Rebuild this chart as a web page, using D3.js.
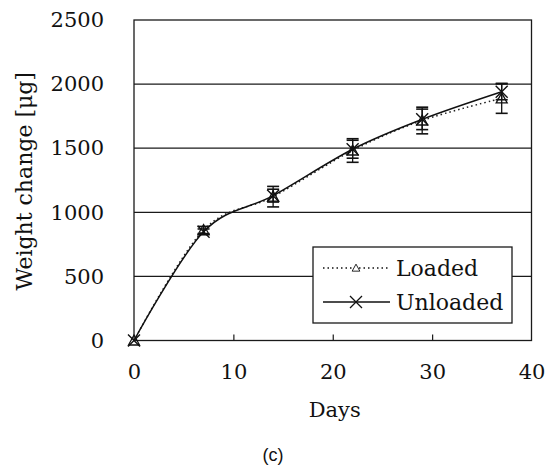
<!DOCTYPE html>
<html>
<head>
<meta charset="utf-8">
<script src="https://cdnjs.cloudflare.com/ajax/libs/d3/7.8.5/d3.min.js"></script>
<style>
    body { margin: 0; background: white; }
    text { font-family: "DejaVu Serif", serif; fill: #111; }
</style>
</head>
<body>
<script>
// data
var days = [0, 7, 14, 22, 29, 37];
var loaded = [0, 862, 1122, 1482, 1716, 1889];
var loadedErr = [0, 28, 80, 92, 104, 117];
var unloaded = [0, 848, 1130, 1492, 1725, 1940];
var unloadedErr = [0, 22, 50, 70, 80, 62];
var xTicks = [0, 10, 20, 30, 40];
var yTicks = [0, 500, 1000, 1500, 2000, 2500];
var gridValues = [500, 1000, 1500, 2000];
var seriesNames = ["Loaded", "Unloaded"];

var margin = { top: 20, right: 15.5, bottom: 126.5, left: 134 },
    width = 547 - margin.left - margin.right,
    height = 467 - margin.top - margin.bottom;

var svg = d3.select("body")
    .append("svg")
    .attr("width", 547)
    .attr("height", 467)
    .append("g")
    .attr("transform", "translate(" + margin.left + "," + margin.top + ")");

var x = d3.scaleLinear()
    .domain([0, 40])
    .range([0, width]);

var y = d3.scaleLinear()
    .domain([0, 2500])
    .range([height, 0]);

// horizontale rasterlijnen
svg.selectAll(".grid")
    .data(gridValues)
    .enter()
    .append("line")
    .attr("class", "grid")
    .attr("x1", 0)
    .attr("x2", width)
    .attr("y1", function(d) { return y(d); })
    .attr("y2", function(d) { return y(d); })
    .attr("stroke", "#1a1a1a")
    .attr("stroke-width", 1.3);

// kader rond de plot
svg.append("rect")
    .attr("x", 0)
    .attr("y", 0)
    .attr("width", width)
    .attr("height", height)
    .attr("fill", "none")
    .attr("stroke", "#1a1a1a")
    .attr("stroke-width", 1.3);

// X-as
var xAxis = svg.append("g")
    .attr("transform", "translate(0," + height + ")")
    .call(d3.axisBottom(x).tickValues(xTicks).tickSize(0).tickPadding(24).tickFormat(d3.format("d")));
xAxis.select(".domain").remove();
xAxis.selectAll("text")
    .style("font-size", "21px")
    .style("font-family", "DejaVu Serif");

// kleine streepjes naar binnen
var xInner = svg.append("g")
    .attr("transform", "translate(0," + height + ")")
    .call(d3.axisBottom(x).tickValues([10, 20, 30]).tickSize(-6).tickFormat(""));
xInner.select(".domain").remove();
xInner.selectAll("line").attr("stroke", "#1a1a1a").attr("stroke-width", 1.2);

// Y-as
var yAxis = svg.append("g")
    .call(d3.axisLeft(y).tickValues(yTicks).tickSize(0).tickPadding(30).tickFormat(d3.format("d")));
yAxis.select(".domain").remove();
yAxis.selectAll("text")
    .style("font-size", "21px")
    .style("font-family", "DejaVu Serif");

// as titels
svg.append("text")
    .attr("x", width / 2 + 2)
    .attr("y", 397)
    .attr("text-anchor", "middle")
    .style("font-size", "21px")
    .text("Days");

svg.append("text")
    .attr("transform", "translate(" + (32 - margin.left) + "," + (height / 2 + 1) + ") rotate(-90)")
    .attr("text-anchor", "middle")
    .style("font-size", "22px")
    .text("Weight change [μg]");

svg.append("text")
    .attr("x", 273 - margin.left)
    .attr("y", 461 - margin.top)
    .attr("text-anchor", "middle")
    .style("font-family", "Liberation Sans, sans-serif")
    .style("font-size", "18px")
    .text("(c)");

var loadedData = days.map(function(d, i) { return { day: d, value: loaded[i], err: loadedErr[i] }; });
var unloadedData = days.map(function(d, i) { return { day: d, value: unloaded[i], err: unloadedErr[i] }; });

// lijnen (afgevlakt)
var line = d3.line()
    .x(function(d) { return x(d.day); })
    .y(function(d) { return y(d.value); })
    .curve(d3.curveCardinal.tension(0));

svg.append("path")
    .datum(loadedData)
    .attr("d", line)
    .attr("fill", "none")
    .attr("stroke", "#222")
    .attr("stroke-width", 1.5)
    .attr("stroke-dasharray", "1.5,3");

svg.append("path")
    .datum(unloadedData)
    .attr("d", line)
    .attr("fill", "none")
    .attr("stroke", "#111")
    .attr("stroke-width", 1.5);

// foutbalken
function drawErrors(data) {
    var g = svg.append("g");
    data.filter(function(d) { return d.err > 0; }).forEach(function(d) {
        var cx = x(d.day);
        g.append("line")
            .attr("x1", cx).attr("x2", cx)
            .attr("y1", y(d.value - d.err)).attr("y2", y(d.value + d.err))
            .attr("stroke", "#111").attr("stroke-width", 1.3);
        [d.value - d.err, d.value + d.err].forEach(function(v) {
            g.append("line")
                .attr("x1", cx - 6).attr("x2", cx + 6)
                .attr("y1", y(v)).attr("y2", y(v))
                .attr("stroke", "#111").attr("stroke-width", 1.6);
        });
    });
}
drawErrors(loadedData);
drawErrors(unloadedData);

// markers
var triangle = "M0,-5.5L5.5,4.5L-5.5,4.5Z";
var cross = "M-6,-6L6,6M-6,6L6,-6";

svg.selectAll(".tri")
    .data(loadedData)
    .enter()
    .append("path")
    .attr("class", "tri")
    .attr("transform", function(d) { return "translate(" + x(d.day) + "," + y(d.value) + ")"; })
    .attr("d", triangle)
    .attr("fill", "none")
    .attr("stroke", "#111")
    .attr("stroke-width", 1.3);

svg.selectAll(".cross")
    .data(unloadedData)
    .enter()
    .append("path")
    .attr("class", "cross")
    .attr("transform", function(d) { return "translate(" + x(d.day) + "," + y(d.value) + ")"; })
    .attr("d", cross)
    .attr("fill", "none")
    .attr("stroke", "#111")
    .attr("stroke-width", 1.4);

// legenda
var legend = svg.append("g")
    .attr("transform", "translate(" + (313 - margin.left) + "," + (247 - margin.top) + ")");

legend.append("rect")
    .attr("width", 199)
    .attr("height", 76)
    .attr("fill", "white")
    .attr("stroke", "#1a1a1a")
    .attr("stroke-width", 1.3);

seriesNames.forEach(function(name, i) {
    var ly = 21 + i * 34;
    legend.append("line")
        .attr("x1", 10).attr("x2", 77)
        .attr("y1", ly).attr("y2", ly)
        .attr("stroke", "#111")
        .attr("stroke-width", 1.5)
        .attr("stroke-dasharray", i === 0 ? "1.5,3" : null);
    legend.append("path")
        .attr("transform", "translate(43," + ly + ") scale(" + (i === 0 ? 0.7 : 1) + ")")
        .attr("d", i === 0 ? triangle : cross)
        .attr("fill", "white")
        .attr("stroke", "#111")
        .attr("stroke-width", 1.3);
    legend.append("text")
        .attr("x", 83)
        .attr("y", ly + 8)
        .style("font-size", "22px")
        .text(name);
});
</script>
</body>
</html>
